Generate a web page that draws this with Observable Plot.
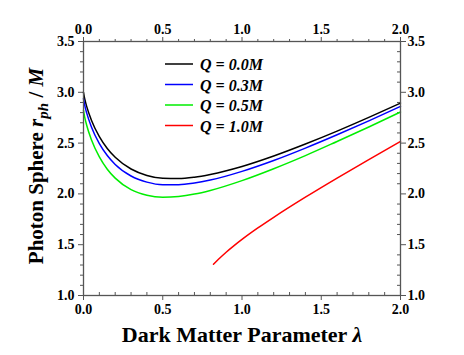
<!DOCTYPE html>
<html><head><meta charset="utf-8">
<script src="https://cdn.jsdelivr.net/npm/d3@7"></script>
<script src="https://cdn.jsdelivr.net/npm/@observablehq/plot@0.6"></script>
<style>body{margin:0;background:#fff} svg{display:block}</style>
</head><body><div id="chart"></div>
<script>
// Data
const lambda = [0, 0.005, 0.01, 0.02, 0.05, 0.1, 0.15, 0.2, 0.3, 0.4, 0.5, 0.6, 0.7, 0.8, 1.0, 1.2, 1.4, 1.6, 1.8, 2.0];
const rQ00 = [3.000, 2.955, 2.920, 2.861, 2.725, 2.563, 2.447, 2.360, 2.245, 2.182, 2.154, 2.151, 2.165, 2.192, 2.270, 2.373, 2.491, 2.618, 2.753, 2.893];
const rQ03 = [2.939, 2.893, 2.857, 2.797, 2.659, 2.495, 2.378, 2.290, 2.176, 2.116, 2.091, 2.091, 2.107, 2.136, 2.222, 2.329, 2.451, 2.582, 2.719, 2.862];
const rQ05 = [2.823, 2.775, 2.738, 2.676, 2.533, 2.364, 2.243, 2.155, 2.042, 1.987, 1.968, 1.975, 1.998, 2.034, 2.131, 2.248, 2.377, 2.516, 2.658, 2.806];
const lambdaQ10 = [0.82, 0.85, 0.9, 0.95, 1.0, 1.1, 1.2, 1.4, 1.6, 1.8, 2.0];
const rQ10 = [1.307, 1.354, 1.426, 1.491, 1.552, 1.665, 1.770, 1.968, 2.156, 2.338, 2.516];

const seriesNames = ["Q = 0.0M", "Q = 0.3M", "Q = 0.5M", "Q = 1.0M"];
const seriesColors = ["#000000", "#0000ff", "#00ee00", "#ff0000"];

const xMajor = [0, 0.5, 1.0, 1.5, 2.0];
const xMinor = [0.1, 0.2, 0.3, 0.4, 0.6, 0.7, 0.8, 0.9, 1.1, 1.2, 1.3, 1.4, 1.6, 1.7, 1.8, 1.9];
const yMajor = [1.0, 1.5, 2.0, 2.5, 3.0, 3.5];
const yMinor = [1.1, 1.2, 1.3, 1.4, 1.6, 1.7, 1.8, 1.9, 2.1, 2.2, 2.3, 2.4, 2.6, 2.7, 2.8, 2.9, 3.1, 3.2, 3.3, 3.4];

const rows = [];
[rQ00, rQ03, rQ05].forEach((arr, s) => arr.forEach((r, i) => rows.push({s: seriesNames[s], x: lambda[i], y: r})));
rQ10.forEach((r, i) => rows.push({s: seriesNames[3], x: lambdaQ10[i], y: r}));

const axisColor = "#555";
const serif = "Liberation Serif";
const fmt = d => d.toFixed(1);
const tf = {fontFamily: serif, fontWeight: "bold", fontSize: 14, fill: "black", stroke: axisColor, label: null};

const chart = Plot.plot({
  width: 464, height: 355,
  marginLeft: 83, marginRight: 64, marginTop: 41, marginBottom: 60,
  x: {domain: [0, 2]},
  y: {domain: [1, 3.5]},
  color: {domain: seriesNames, range: seriesColors},
  style: {background: "white", color: "black", overflow: "visible", fontFamily: serif, fontSize: "14px", fontWeight: "bold"},
  marks: [
    Plot.axisX({anchor: "bottom", ticks: xMajor, tickFormat: fmt, tickSize: 5, tickPadding: 4, ...tf}),
    Plot.axisX({anchor: "top", ticks: xMajor, tickFormat: fmt, tickSize: 5, tickPadding: 2.5, ...tf}),
    Plot.axisY({anchor: "left", ticks: yMajor, tickFormat: fmt, tickSize: 5, tickPadding: 4, ...tf}),
    Plot.axisY({anchor: "right", ticks: yMajor, tickFormat: fmt, tickSize: 5, tickPadding: 2, ...tf}),
    Plot.axisX({anchor: "top", ticks: xMinor, tickFormat: () => "", tickSize: 3, label: null, stroke: axisColor}),
    Plot.axisY({anchor: "left", ticks: yMinor, tickFormat: () => "", tickSize: 3, label: null, stroke: axisColor}),
    Plot.ruleX(xMinor, {insetTop: 251, stroke: axisColor}),
    Plot.ruleY(yMinor, {insetLeft: 314, stroke: axisColor}),
    Plot.line(rows, {x: "x", y: "y", z: "s", stroke: "s", strokeWidth: 1.5, curve: "monotone-x"}),
    Plot.frame({stroke: axisColor, strokeWidth: 1.3})
  ]
});

const svg = d3.select(chart);
svg.selectAll("text")
  .style("font-family", serif).style("font-size", "14px").style("font-weight", "bold");

// Y title with italic/subscript parts
const yt = svg.append("text")
  .attr("transform", "translate(43,166) rotate(-90)")
  .attr("text-anchor", "middle")
  .style("font-family", serif).style("font-weight", "bold").style("font-size", "21px").attr("fill", "black");
yt.append("tspan").text("Photon Sphere ");
yt.append("tspan").style("font-style", "italic").text("r");
yt.append("tspan").style("font-style", "italic").style("font-size", "15px").attr("dy", "5").text("ph");
yt.append("tspan").attr("dy", "-5").text(" / ");
yt.append("tspan").style("font-style", "italic").text("M");

// X title
const xt = svg.append("text")
  .attr("x", 242).attr("y", 342)
  .attr("text-anchor", "middle")
  .style("font-family", serif).style("font-weight", "bold").style("font-size", "22px").attr("fill", "black");
xt.append("tspan").text("Dark Matter Parameter ");
xt.append("tspan").style("font-style", "italic").text("λ");

// Legend
const lg = svg.append("g");
seriesNames.forEach((name, i) => {
  const yy = 64 + i * 20.5;
  lg.append("line").attr("x1", 165).attr("x2", 193).attr("y1", yy).attr("y2", yy)
    .attr("stroke", seriesColors[i]).attr("stroke-width", 1.5);
  lg.append("text").attr("x", 200).attr("y", yy + 6)
    .attr("text-anchor", "start")
    .style("font-family", serif).style("font-weight", "bold").style("font-style", "italic")
    .style("font-size", "16px").attr("fill", "black").text(name);
});

document.getElementById("chart").append(chart);
</script></body></html>
